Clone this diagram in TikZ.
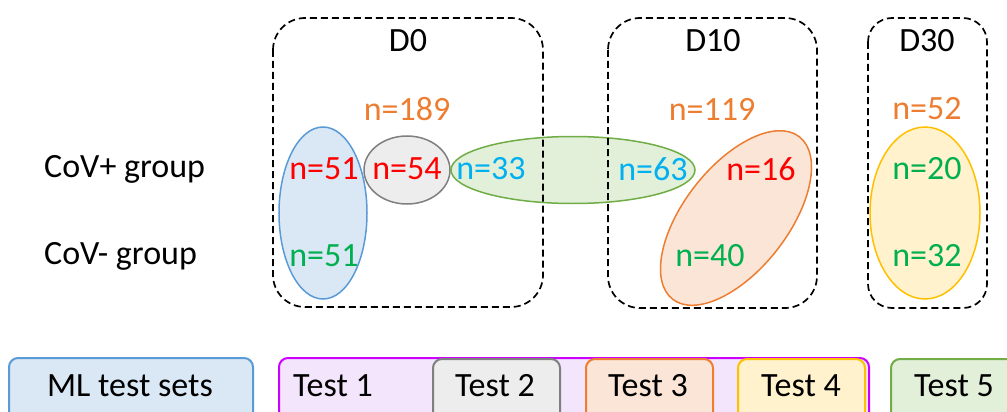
\documentclass[tikz,border=0pt]{standalone}
\usepackage{fontspec}
\setmainfont{Carlito}
\usetikzlibrary{shapes.geometric}
\definecolor{corange}{HTML}{ED7D31}
\definecolor{cred}{HTML}{FF0000}
\definecolor{cgreen}{HTML}{00B050}
\definecolor{ccyan}{HTML}{00B0F0}
\definecolor{bluefill}{HTML}{DAE7F5}
\definecolor{blueline}{HTML}{5B9BD5}
\definecolor{greyfill}{HTML}{EDEDED}
\definecolor{greyline}{HTML}{7F7F7F}
\definecolor{greenfill}{HTML}{E2EFD9}
\definecolor{greenline}{HTML}{70AD47}
\definecolor{orangefill}{HTML}{FBE5D6}
\definecolor{yellowfill}{HTML}{FFF2CC}
\definecolor{yellowline}{HTML}{FFC000}
\definecolor{purplefill}{HTML}{F3E5FB}
\definecolor{purpleline}{HTML}{CC00FF}
\begin{document}
\begin{tikzpicture}[x=1pt,y=-1pt,
  lbl/.style={font=\fontsize{34}{38}\selectfont, inner sep=0pt, anchor=center},
  ell/.style={ellipse, draw, line width=1.5pt, inner sep=0pt},
  daybox/.style={draw, dash pattern=on 7pt off 4pt, line width=1.7pt, rounded corners=32pt},
  testbox/.style={draw, line width=2pt, rounded corners=9pt, inner sep=0pt, anchor=north west}]
\useasboundingbox (0,0) rectangle (1007,412);
\clip (0,0) rectangle (1007,412);
% ellipses
\node[ell, fill=bluefill, draw=blueline, minimum width=88pt, minimum height=172pt] (eblue) at (323,213) {};
\node[ell, fill=greyfill, draw=greyline, minimum width=86pt, minimum height=68pt] (egrey) at (407,170) {};
\node[ell, fill=greenfill, draw=greenline, minimum width=244pt, minimum height=67pt] (egreen) at (573,170) {};
\node[ell, fill=orangefill, draw=corange, minimum width=206pt, minimum height=104pt, rotate=52] (eorange) at (736,218) {};
\node[ell, fill=yellowfill, draw=yellowline, minimum width=110pt, minimum height=172pt] (eyellow) at (925,213) {};
% day boxes
\draw[daybox] (273,18) rectangle (543,307);
\draw[daybox] (608,18) rectangle (817,308);
\draw[daybox, rounded corners=24pt] (868,18) rectangle (987,308);
\node[lbl] (d0) at (408,41) {D0};
\node[lbl] (d10) at (713,41) {D10};
\node[lbl] (d30) at (927,41) {D30};
% totals
\node[lbl, text=corange] (t0) at (407,109) {n=189};
\node[lbl, text=corange] (t10) at (712,109) {n=119};
\node[lbl, text=corange] (t30) at (927,109) {n=52};
% group labels
\node[lbl, anchor=west] (gpos) at (44,169) {CoV+ group};
\node[lbl, anchor=west] (gneg) at (44,256) {CoV- group};
% counts
\node[lbl, text=cred] (a1) at (324,169) {n=51};
\node[lbl, text=cgreen] (a2) at (324,256) {n=51};
\node[lbl, text=cred] (b1) at (407,169) {n=54};
\node[lbl, text=ccyan] (c1) at (491,169) {n=33};
\node[lbl, text=ccyan] (c2) at (653,169) {n=63};
\node[lbl, text=cred] (o1) at (761,169) {n=16};
\node[lbl, text=cgreen] (o2) at (710,256) {n=40};
\node[lbl, text=cgreen] (y1) at (927,169) {n=20};
\node[lbl, text=cgreen] (y2) at (927,256) {n=32};
% bottom boxes
\node[testbox, fill=bluefill, draw=blueline, minimum width=244pt, minimum height=70pt] (ml) at (8,357) {};
\node[lbl] at (130,386) {ML test sets};
\node[testbox, fill=purplefill, draw=purpleline, minimum width=590pt, minimum height=70pt] (tall) at (278,357) {};
\node[lbl] (t1) at (333,386) {Test 1};
\node[testbox, fill=greyfill, draw=greyline, minimum width=127pt, minimum height=70pt] (tb2) at (432,358) {};
\node[lbl] (t2) at (495,386) {Test 2};
\node[testbox, fill=orangefill, draw=corange, minimum width=127pt, minimum height=70pt] (tb3) at (585,358) {};
\node[lbl] (t3) at (648,386) {Test 3};
\node[testbox, fill=yellowfill, draw=yellowline, minimum width=127pt, minimum height=70pt] (tb4) at (737,358) {};
\node[lbl] (t4) at (801,386) {Test 4};
\node[testbox, fill=greenfill, draw=greenline, minimum width=160pt, minimum height=70pt] (tb5) at (890,358) {};
\node[lbl] (t5) at (954,386) {Test 5};
\end{tikzpicture}
\end{document}
